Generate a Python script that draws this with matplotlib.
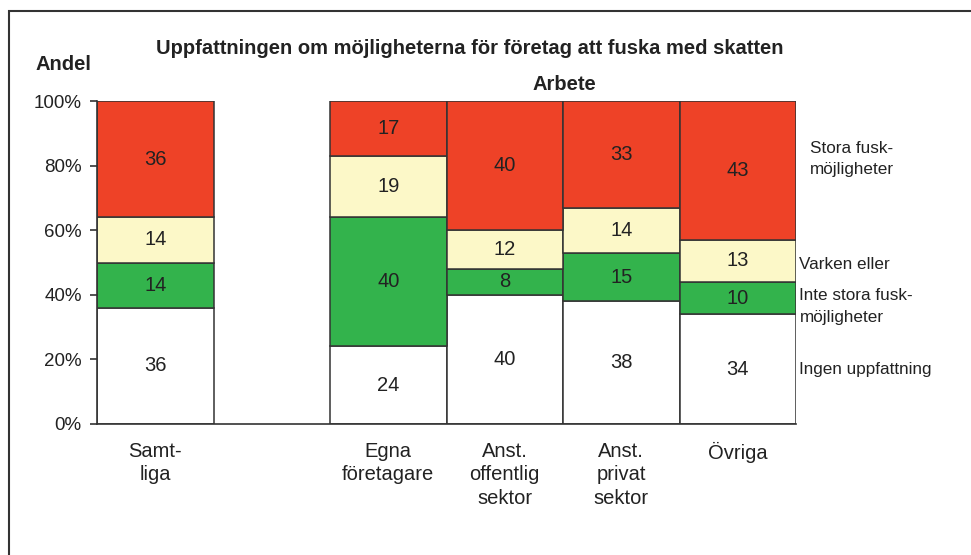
import numpy as np
import matplotlib.pyplot as plt
from matplotlib.patches import Rectangle

plt.rcParams['font.family'] = ['Liberation Sans', 'DejaVu Sans']

# Data (percent), stacked bottom to top
groups = ['Samt-\nliga', 'Egna\nföretagare', 'Anst.\noffentlig\nsektor',
          'Anst.\nprivat\nsektor', 'Övriga']
positions = [0, 2, 3, 4, 5]
ingen = [36, 24, 40, 38, 34]
inte_stora = [14, 40, 8, 15, 10]
varken = [14, 19, 12, 14, 13]
stora = [36, 17, 40, 33, 43]

series = [ingen, inte_stora, varken, stora]
colors = ['#FFFFFF', '#33B34C', '#FCF8C8', '#EE4227']
right_labels = ['Ingen uppfattning', 'Inte stora fusk-\nmöjligheter',
                'Varken eller', 'Stora fusk-\nmöjligheter']

fig = plt.figure(figsize=(9.71, 5.55), dpi=100)
ax = fig.add_axes([97/971, 1 - 424/555, (796-97)/971, (424-101)/555])

bottom = np.zeros(len(positions))
for vals, col in zip(series, colors):
    vals = np.array(vals)
    ax.bar(positions, vals, width=1.0, bottom=bottom, color=col,
           edgecolor='#333333', linewidth=1.1, zorder=2)
    for x, b, v in zip(positions, bottom, vals):
        ax.text(x, b + v / 2, str(v), ha='center', va='center',
                fontsize=14.5, color='#222222', zorder=3)
    bottom += vals

ax.set_xlim(-0.5, 5.5)
ax.set_ylim(0, 100)
ax.set_yticks(np.arange(0, 101, 20))
ax.set_yticklabels([f'{v}%' for v in range(0, 101, 20)], fontsize=13.5, color='#222222')
ax.tick_params(axis='y', direction='out', length=5, width=1.2, color='#333333', pad=6)
ax.set_xticks([])
for s in ['top', 'right']:
    ax.spines[s].set_visible(False)
for s in ['left', 'bottom']:
    ax.spines[s].set_color('#333333')
    ax.spines[s].set_linewidth(1.2)

# Category labels under the bars
for x, g in zip(positions, groups):
    ax.text(x, -5.5, g, ha='center', va='top', fontsize=14.5,
            color='#222222', linespacing=1.3)

# Series labels to the right
label_y = [17, 36.3, 49.5, 82]
label_x = [5.53, 5.53, 5.53, 5.62]
for lx, ly, txt in zip(label_x, label_y, right_labels):
    ax.text(lx, ly, txt, ha='left', va='center', fontsize=12.3,
            color='#222222', linespacing=1.55)

fig.text(470/971, 1 - 49/555, 'Uppfattningen om möjligheterna för företag att fuska med skatten',
         ha='center', va='center', fontsize=14.5, fontweight='bold', color='#222222')
fig.text(35/971, 1 - 65/555, 'Andel', ha='left', va='center', fontsize=14.5,
         fontweight='bold', color='#222222')
fig.text(564/971, 1 - 84/555, 'Arbete', ha='center', va='center', fontsize=14.5,
         fontweight='bold', color='#222222')

# Outer frame
fig.patches.append(Rectangle((9/971, -0.1), 1.1, 1 - 11/555 + 0.1,
                             transform=fig.transFigure, fill=False,
                             edgecolor='#333333', linewidth=1.5))

fig.savefig('out.png', dpi=100)
